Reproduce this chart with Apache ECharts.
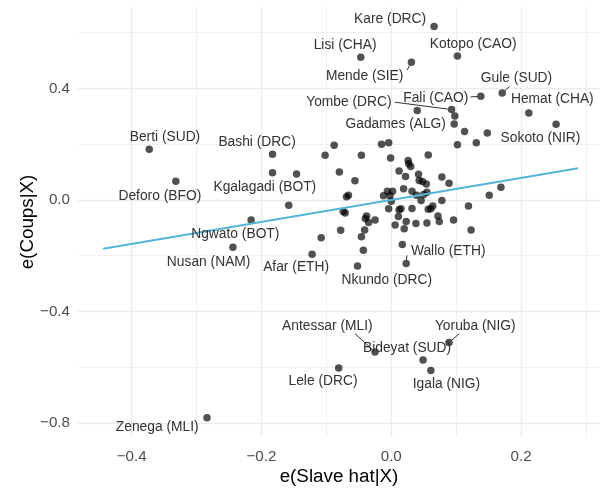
<!DOCTYPE html>
<html>
<head>
<meta charset="utf-8">
<script src="https://cdn.jsdelivr.net/npm/echarts@6/dist/echarts.min.js"></script>
<style>
    html, body { margin: 0; padding: 0; background: #fff; }
    #chart1 { width: 601px; height: 491px; }
</style>
</head>
<body>
<div id="chart1"></div>
<script>
// axis ticks
var xTicks = [-0.4, -0.2, 0.0, 0.2];
var xMinor = [-0.3, -0.1, 0.1, 0.3];
var yTicks = [-0.8, -0.4, 0.0, 0.4];
var yMinor = [-0.6, -0.2, 0.2, 0.6];

// labelled groups
var labName = ['Kare (DRC)', 'Lisi (CHA)', 'Kotopo (CAO)', 'Mende (SIE)', 'Gule (SUD)', 'Fali (CAO)',
    'Hemat (CHA)', 'Yombe (DRC)', 'Gadames (ALG)', 'Sokoto (NIR)', 'Berti (SUD)', 'Bashi (DRC)',
    'Deforo (BFO)', 'Kgalagadi (BOT)', 'Ngwato (BOT)', 'Nusan (NAM)', 'Afar (ETH)', 'Wallo (ETH)',
    'Nkundo (DRC)', 'Antessar (MLI)', 'Yoruba (NIG)', 'Bideyat (SUD)', 'Lele (DRC)', 'Igala (NIG)',
    'Zenega (MLI)'];
var labX = [0.066, -0.047, 0.102, 0.031, 0.171, 0.138, 0.212, 0.093, 0.097, 0.254, -0.373, -0.183,
    -0.332, -0.183, -0.216, -0.244, -0.122, 0.023, -0.052, -0.025, 0.089, 0.049, -0.081, 0.061, -0.284];
var labY = [0.622, 0.512, 0.516, 0.494, 0.384, 0.372, 0.312, 0.324, 0.272, 0.271, 0.182, 0.164,
    0.067, 0.097, -0.072, -0.170, -0.195, -0.228, -0.237, -0.546, -0.512, -0.575, -0.603, -0.612, -0.782];

// the other groups
var restX = [-0.158, -0.088, -0.102, -0.080, -0.069, -0.066, -0.074, -0.071, -0.108, -0.078, -0.046,
    -0.015, -0.004, 0.057, -0.001, 0.026, 0.027, 0.030, -0.056, 0.012, 0.022, 0.042, 0.043, 0.048,
    0.054, 0.078, 0.089, 0.169, 0.151, 0.040, 0.098, 0.113, 0.148, 0.131, 0.102, 0.019, 0.032,
    0.039, 0.050, 0.055, 0.046, 0.078, 0.119, 0.123, 0.096, 0.074, 0.072, 0.064, 0.061, 0.057,
    0.055, 0.038, 0.032, 0.023, 0.020, 0.012, 0.015, 0.011, 0.006, -0.004, 0.000, -0.002, -0.006,
    0.002, -0.012, -0.025, -0.035, -0.041, -0.046, -0.043, 0.017, -0.040, -0.038, -0.146];
var restY = [-0.019, 0.196, 0.160, 0.100, 0.011, 0.017, -0.042, -0.047, -0.136, -0.109, 0.160,
    0.200, 0.205, 0.161, 0.150, 0.141, 0.130, 0.120, 0.069, 0.104, 0.084, 0.092, 0.070, 0.066,
    0.057, 0.082, 0.060, 0.045, 0.017, 0.321, 0.301, 0.245, 0.240, 0.205, 0.198, 0.040, 0.031,
    0.017, 0.019, 0.027, -0.002, -0.002, -0.022, -0.108, -0.072, -0.078, -0.058, -0.022, -0.032,
    -0.034, -0.083, -0.085, -0.031, -0.078, -0.104, -0.035, -0.032, -0.060, -0.090, -0.032, -0.005,
    0.015, 0.031, 0.031, 0.015, -0.072, -0.081, -0.108, -0.132, -0.181, -0.160, -0.067, -0.058, 0.093];

// fitted line
var fitX = [-0.444, 0.288];
var fitSlope = 0.395;

// label placement, px from the point: [dx, dy]
var labelOff = {
    'Kare (DRC)': [-44, -7.4], 'Lisi (CHA)': [-15.7, -12.4], 'Kotopo (CAO)': [15.7, -12.4],
    'Mende (SIE)': [-46.7, 14], 'Gule (SUD)': [14.3, -14.4], 'Fali (CAO)': [-45, 1.7],
    'Hemat (CHA)': [23.5, -13.3], 'Yombe (DRC)': [-102.7, -7.4], 'Gadames (ALG)': [-58.5, 0.4],
    'Sokoto (NIR)': [-15.6, 13.6], 'Berti (SUD)': [15.7, -12], 'Bashi (DRC)': [-15.4, -12],
    'Deforo (BFO)': [-16, 14.7], 'Kgalagadi (BOT)': [-7.7, 14.6], 'Ngwato (BOT)': [-15.8, 14.7],
    'Nusan (NAM)': [-24.3, 14.7], 'Afar (ETH)': [-16, 13.3], 'Wallo (ETH)': [42, -12.6],
    'Nkundo (DRC)': [29.3, 14], 'Antessar (MLI)': [-47.7, -26], 'Yoruba (NIG)': [26.3, -16.6],
    'Bideyat (SUD)': [-16, -12], 'Lele (DRC)': [-15.7, 13.7], 'Igala (NIG)': [15.6, 14],
    'Zenega (MLI)': [-49.8, 9.4]
};
// leader segments, px from the point to the label end
var segOff = {
    'Mende (SIE)': [-4.4, 8], 'Gule (SUD)': [7.3, -6.4], 'Fali (CAO)': [-10.3, 0.7],
    'Yombe (DRC)': [-56.7, -7.4], 'Wallo (ETH)': [0.7, -8], 'Antessar (MLI)': [-20, -18.4],
    'Yoruba (NIG)': [10.3, -9]
};

var FONT = 'Liberation Sans, Arial, Helvetica, sans-serif';

function fmt(v) {
    var s = Math.abs(v).toFixed(1);
    return v < -1e-9 ? '\u2212' + s : s;
}

window.onload = function () {
    myChart1Init();
};

function myChart1Init() {
    var myChart1 = echarts.init(document.getElementById('chart1'));

    var pts = [];
    var labData = [];
    for (var i = 0; i < labX.length; i++) {
        pts.push([labX[i], labY[i]]);
        labData.push({name: labName[i], value: [labX[i], labY[i]]});
    }
    for (var j = 0; j < restX.length; j++) {
        pts.push([restX[j], restY[j]]);
    }
    var fit = [];
    for (var k = 0; k < fitX.length; k++) {
        fit.push([fitX[k], fitX[k] * fitSlope]);
    }

    var xMin = -0.4828, xMax = 0.3217;
    var yMin = -0.8509, yMax = 0.6922;

    var option1 = {
        animation: false,
        backgroundColor: '#fff',
        grid: {left: 78, right: 1, top: 7, bottom: 49.3},
        xAxis: [
            {
                type: 'value', min: xMin, max: xMax,
                axisLine: {show: false},
                axisTick: {show: false, customValues: xTicks},
                axisLabel: {customValues: xTicks, formatter: fmt, color: '#4d4d4d',
                    fontSize: 15.2, fontFamily: FONT, margin: 12},
                splitLine: {show: true, lineStyle: {color: '#ebebeb', width: 1.4}},
                name: 'e(Slave hat|X)', nameLocation: 'middle', nameGap: 30, nameMoveOverlap: false,
                nameTextStyle: {fontSize: 18.8, color: '#000', fontFamily: FONT}
            },
            {
                type: 'value', min: xMin, max: xMax, position: 'bottom',
                axisLine: {show: false},
                axisTick: {show: false, customValues: xMinor},
                axisLabel: {show: false},
                splitLine: {show: true, lineStyle: {color: '#ebebeb', width: 0.8}}
            }
        ],
        yAxis: [
            {
                type: 'value', min: yMin, max: yMax,
                axisLine: {show: false},
                axisTick: {show: false, customValues: yTicks},
                axisLabel: {customValues: yTicks, formatter: fmt, color: '#4d4d4d',
                    fontSize: 15.2, fontFamily: FONT, margin: 8},
                splitLine: {show: true, lineStyle: {color: '#ebebeb', width: 1.4}},
                name: 'e(Coups|X)', nameLocation: 'middle', nameGap: 41, nameMoveOverlap: false,
                nameTextStyle: {fontSize: 18.8, color: '#000', fontFamily: FONT}
            },
            {
                type: 'value', min: yMin, max: yMax, position: 'left',
                axisLine: {show: false},
                axisTick: {show: false, customValues: yMinor},
                axisLabel: {show: false},
                splitLine: {show: true, lineStyle: {color: '#ebebeb', width: 0.8}}
            }
        ],
        series: [
            {
                type: 'scatter',
                data: pts,
                symbolSize: 7.5,
                itemStyle: {color: 'rgba(0,0,0,0.85)'},
                z: 2
            },
            {
                type: 'line',
                data: fit,
                showSymbol: false,
                lineStyle: {color: '#56B4D9', width: 2},
                z: 3
            },
            {
                type: 'custom',
                data: labData,
                z: 4,
                renderItem: function (params, api) {
                    var nm = labName[params.dataIndex];
                    var p = api.coord([api.value(0), api.value(1)]);
                    var off = labelOff[nm];
                    var kids = [];
                    var s = segOff[nm];
                    if (s) {
                        var len = Math.sqrt(s[0] * s[0] + s[1] * s[1]);
                        var r = 3.5 / len;
                        kids.push({
                            type: 'line',
                            shape: {x1: p[0] + s[0] * r, y1: p[1] + s[1] * r, x2: p[0] + s[0], y2: p[1] + s[1]},
                            style: {stroke: '#333', lineWidth: 1}
                        });
                    }
                    kids.push({
                        type: 'text',
                        x: p[0] + off[0],
                        y: p[1] + off[1],
                        style: {
                            text: nm, fill: '#333', fontSize: 13.8, fontFamily: FONT,
                            align: 'center', verticalAlign: 'middle'
                        }
                    });
                    return {type: 'group', children: kids};
                }
            }
        ]
    };

    myChart1.setOption(option1);
}
</script>
</body>
</html>
